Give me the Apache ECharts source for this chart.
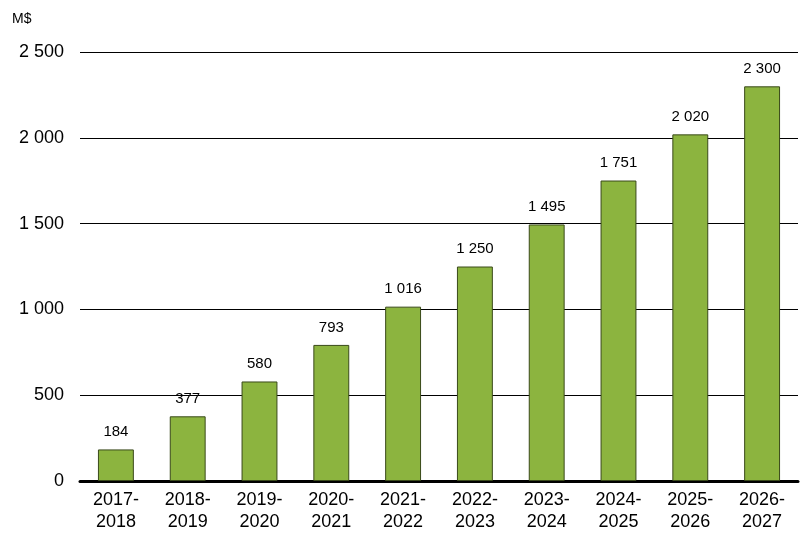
<!DOCTYPE html>
<html><head><meta charset="utf-8">
<script src="https://cdn.jsdelivr.net/npm/echarts@6/dist/echarts.min.js"></script>
<style>html,body{margin:0;padding:0;background:#fff}#c{width:800px;height:541px}</style>
</head><body><div id="c"></div>
<script>
const categories = ["2017-\n2018","2018-\n2019","2019-\n2020","2020-\n2021","2021-\n2022","2022-\n2023","2023-\n2024","2024-\n2025","2025-\n2026","2026-\n2027"];
const values = [184,377,580,793,1016,1250,1495,1751,2020,2300];
const yTicks = [0,500,1000,1500,2000,2500];
const fmt = v => String(v).replace(/\B(?=(\d{3})+(?!\d))/g, ' ');
const chart = echarts.init(document.getElementById('c'));
chart.setOption({
  animation:false,
  textStyle:{fontFamily:'Liberation Sans, Arial, sans-serif'},
  graphic:[{type:'text',left:12,top:12,style:{text:'M$',fontSize:14,fill:'#000',fontFamily:'Liberation Sans, Arial'}}],
  grid:{left:80,right:2,top:52,bottom:60},
  xAxis:{type:'category',data:categories,
    axisLine:{lineStyle:{color:'#000',width:3}},axisTick:{show:false},
    axisLabel:{color:'#000',fontSize:18,lineHeight:22,margin:8}},
  yAxis:{type:'value',min:yTicks[0],max:yTicks[yTicks.length-1],interval:500,
    axisLine:{show:false},axisTick:{show:false},
    splitLine:{lineStyle:{color:'#000',width:1}},
    axisLabel:{color:'#000',fontSize:18,margin:16,formatter:fmt}},
  series:[{type:'bar',data:values,barWidth:'50%',
    itemStyle:{color:'#8cb43f',borderColor:'#3a4a1a',borderWidth:1},
    label:{show:true,position:'top',distance:10,color:'#000',fontSize:15,formatter:p=>fmt(p.value)}}]
});
</script></body></html>
